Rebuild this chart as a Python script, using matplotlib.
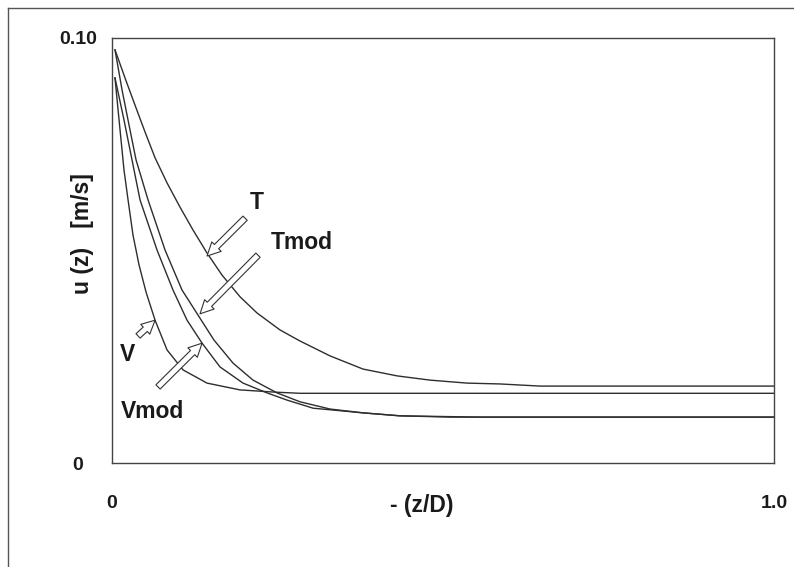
import matplotlib
matplotlib.use("Agg")
import matplotlib.pyplot as plt
from matplotlib.lines import Line2D

plt.rcParams['font.family'] = ['Liberation Sans', 'DejaVu Sans']

# velocity profiles u(z) against -(z/D)
t_x = [0.0045, 0.0196, 0.0347, 0.0498, 0.0650, 0.0831, 0.1027, 0.1224, 0.1435, 0.1662,
       0.1934, 0.2190, 0.2538, 0.2840, 0.3293, 0.3792, 0.4305, 0.4804, 0.5363, 0.5861,
       0.6465, 1.0]
t_u = [0.0972, 0.0906, 0.0842, 0.0779, 0.0718, 0.0659, 0.0602, 0.0548, 0.0494, 0.0442,
       0.0391, 0.0353, 0.0313, 0.0287, 0.0252, 0.0221, 0.0205, 0.0195, 0.0188, 0.0186,
       0.0181, 0.0181]

tmod_x = [0.0045, 0.0151, 0.0257, 0.0363, 0.0544, 0.0801, 0.1057, 0.1299, 0.1541, 0.1828,
          0.2130, 0.2492, 0.2840, 0.3293, 0.3792, 0.4350, 0.5106, 1.0]
tmod_u = [0.0972, 0.0878, 0.0795, 0.0713, 0.0619, 0.0501, 0.0407, 0.0348, 0.0289, 0.0235,
          0.0195, 0.0165, 0.0144, 0.0127, 0.0118, 0.0111, 0.0108, 0.0108]

vmod_x = [0.0045, 0.0181, 0.0302, 0.0423, 0.0680, 0.0921, 0.1133, 0.1360, 0.1631, 0.1979,
          0.2341, 0.2644, 0.3036, 0.3792, 0.4350, 0.5559, 1.0]
vmod_u = [0.0906, 0.0807, 0.0713, 0.0619, 0.0501, 0.0407, 0.0336, 0.0282, 0.0226, 0.0188,
          0.0165, 0.0148, 0.0129, 0.0118, 0.0111, 0.0108, 0.0108]

v_x = [0.0045, 0.0091, 0.0136, 0.0181, 0.0242, 0.0317, 0.0408, 0.0514, 0.0650, 0.0831,
       0.1073, 0.1435, 0.1934, 0.2432, 0.2840, 1.0]
v_u = [0.0906, 0.0831, 0.0760, 0.0689, 0.0619, 0.0536, 0.0466, 0.0402, 0.0336, 0.0266,
       0.0219, 0.0188, 0.0172, 0.0167, 0.0164, 0.0164]

# label text, label centre, arrow tail, arrow tip
etiquetas = ['T', 'Tmod', 'V', 'Vmod']
pos_texto = [(0.219, 0.0612), (0.287, 0.0518), (0.0227, 0.0256), (0.0604, 0.0122)]
cola = [(0.201, 0.0576), (0.2205, 0.0489), (0.0393, 0.0299), (0.0695, 0.0179)]
punta = [(0.1435, 0.0487), (0.1329, 0.0351), (0.065, 0.0336), (0.136, 0.0282)]

fig = plt.figure(figsize=(7.94, 5.67), dpi=100)
ax = fig.add_axes([0.1411, 0.1834, 0.8338, 0.7496])

color = '#2e2e2e'
for xs, us in [(t_x, t_u), (tmod_x, tmod_u), (vmod_x, vmod_u), (v_x, v_u)]:
    ax.plot(xs, us, color=color, lw=1.0)

for txt, pt, c, p in zip(etiquetas, pos_texto, cola, punta):
    ax.text(pt[0], pt[1], txt, ha='center', va='center', fontsize=16.5,
            fontweight='bold', color='#1a1a1a')
    ax.annotate('', xy=p, xytext=c,
                arrowprops=dict(arrowstyle='simple,head_length=0.8,head_width=0.8,tail_width=0.36',
                                fc='white', ec='#333333', lw=0.8,
                                shrinkA=0, shrinkB=0, mutation_scale=12))

ax.set_xlim(0, 1.0)
ax.set_ylim(0, 0.10)
ax.set_xticks([0, 1.0])
ax.set_xticklabels(['0', '1.0'])
ax.set_yticks([0, 0.10])
ax.set_yticklabels(['0', '0.10'])
ax.tick_params(axis='x', length=0, pad=23, labelsize=14)
ax.tick_params(axis='y', length=0, pad=24.5, labelsize=14)
for lab in ax.get_xticklabels() + ax.get_yticklabels():
    lab.set_fontweight('bold')
    lab.set_color('#1a1a1a')
for lab in ax.get_yticklabels():
    lab.set_horizontalalignment('center')

for s in ax.spines.values():
    s.set_color('#444444')
    s.set_linewidth(1.0)

ax.text(0.468, -0.099, '- (z/D)', transform=ax.transAxes, ha='center', va='center',
        fontsize=16.5, fontweight='bold', color='#1a1a1a')
ax.text(-0.044, 0.539, 'u (z)   [m/s]', transform=ax.transAxes, ha='center', va='center',
        rotation=90, fontsize=16.5, fontweight='bold', color='#1a1a1a')

# outer frame (left and top edges only)
fig.add_artist(Line2D([8 / 794, 8 / 794], [0, 1 - 8 / 567], transform=fig.transFigure,
                      color='#555555', lw=1.0))
fig.add_artist(Line2D([8 / 794, 1], [1 - 8 / 567, 1 - 8 / 567], transform=fig.transFigure,
                      color='#555555', lw=1.0))

fig.savefig('out.png', dpi=100)
